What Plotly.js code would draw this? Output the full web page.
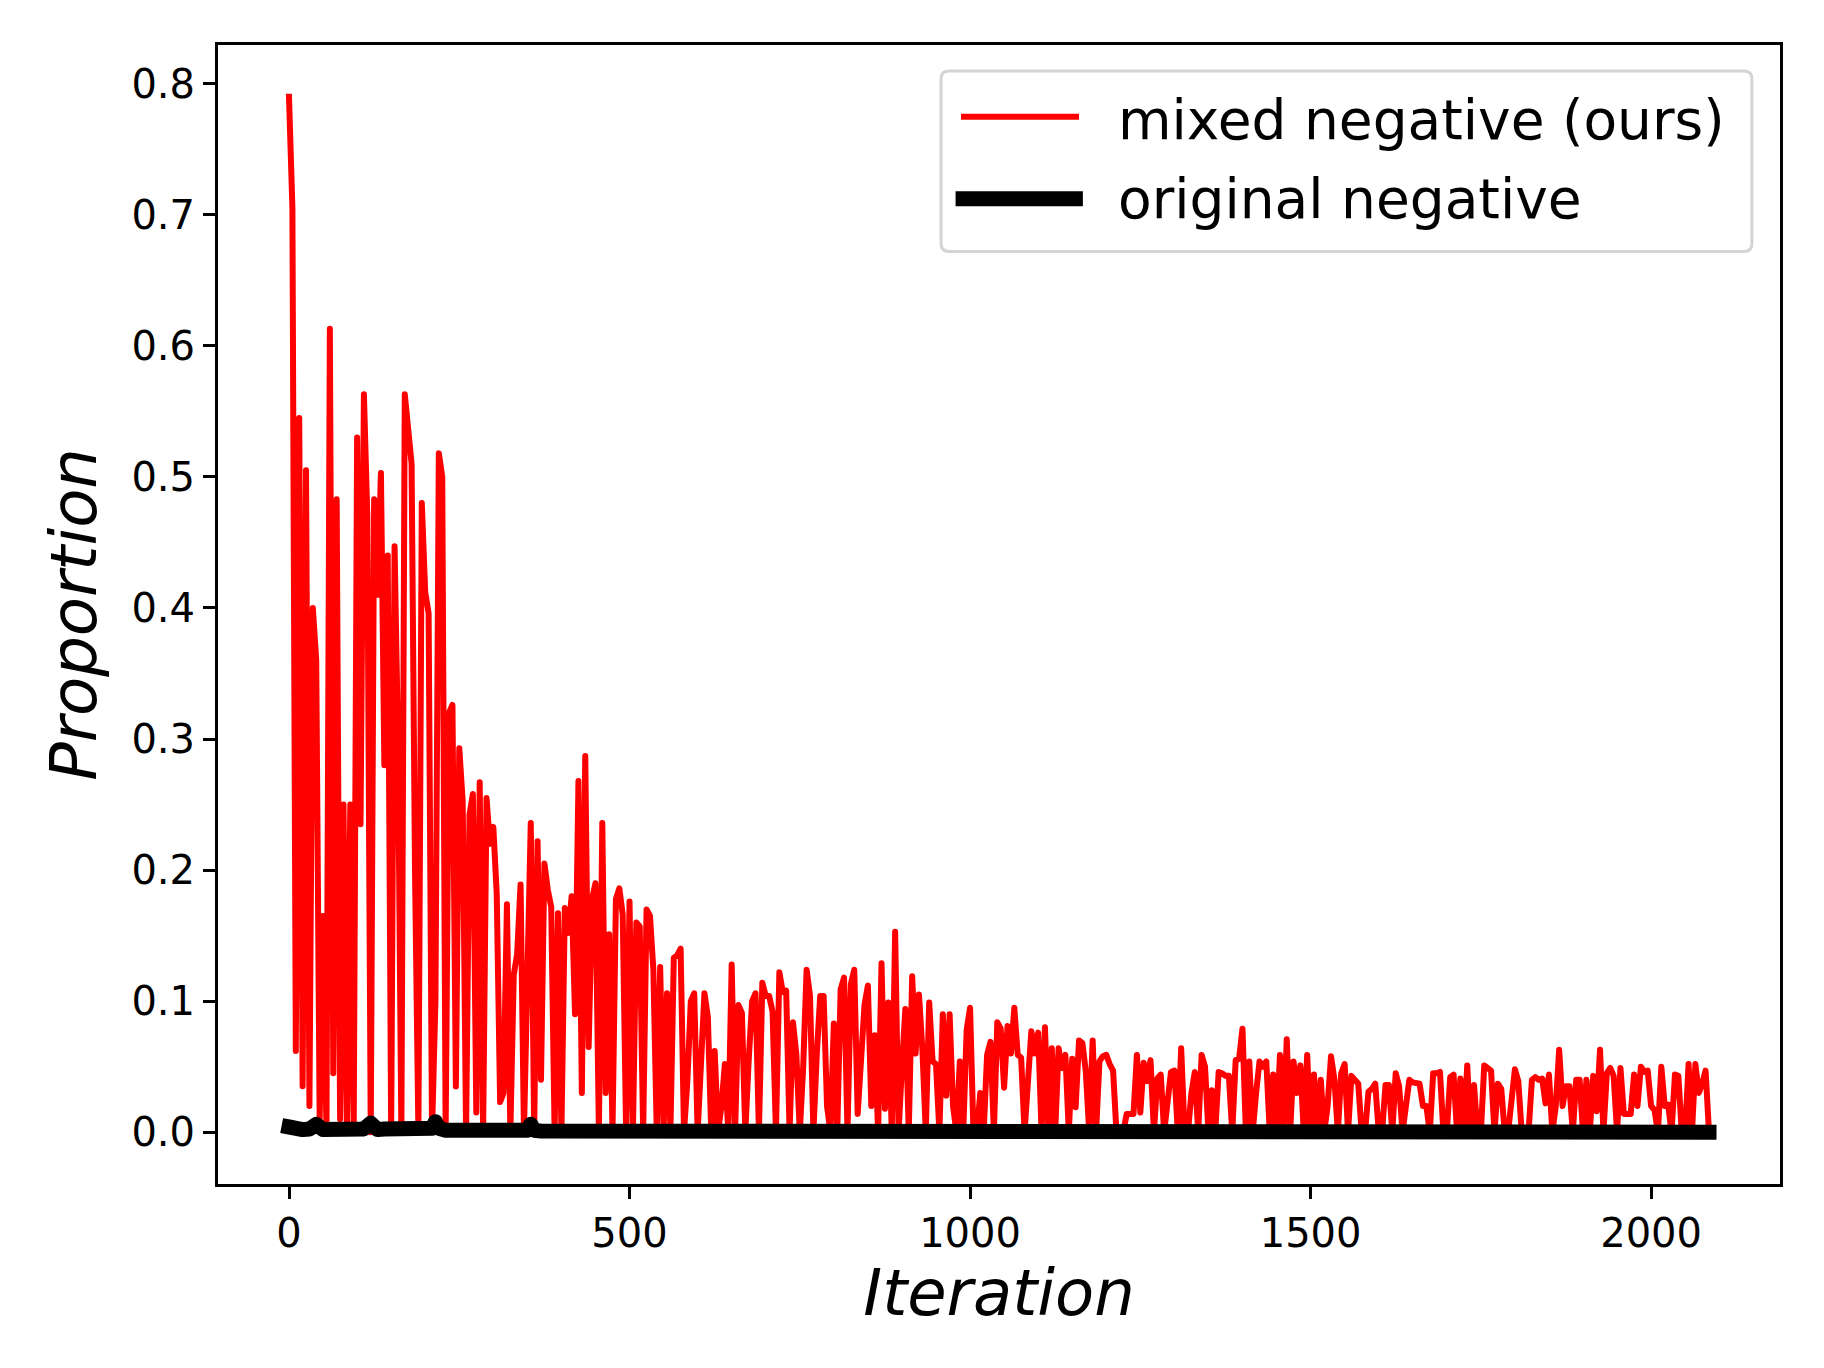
<!DOCTYPE html>
<html>
<head>
<meta charset="utf-8">
<script src="https://cdn.plot.ly/plotly-3.0.1.min.js"></script>
<style>
  html, body { margin: 0; padding: 0; background: #ffffff; }
  #chart { width: 1824px; height: 1368px; }
</style>
</head>
<body>
<div id="chart"></div>
<script>
// ---- Data ----
// Red series "mixed negative (ours)", sampled every 5 iterations.
const ITER_STEP = 5;
const mixedIter0to495 = [
  0.79, 0.705, 0.062, 0.545, 0.035, 0.505, 0.02, 0.40, 0.36, 0.01, 0.165, 0.0, 0.613, 0.045, 0.483, 0.01, 0.25, 0.0, 0.25, 0.0,
  0.53, 0.235, 0.563, 0.47, 0.0, 0.483, 0.41, 0.503, 0.28, 0.44, 0.0, 0.447, 0.30, 0.0, 0.563, 0.54, 0.51, 0.20, 0.0, 0.48,
  0.412, 0.396, 0.0, 0.10, 0.518, 0.50, 0.0, 0.32, 0.326, 0.035, 0.293, 0.253, 0.0, 0.242, 0.258, 0.015, 0.267, 0.0, 0.255, 0.22,
  0.233, 0.182, 0.023, 0.03, 0.174, 0.0, 0.12, 0.136, 0.189, 0.0, 0.104, 0.236, 0.0, 0.222, 0.04, 0.205, 0.185, 0.172, 0.0, 0.167,
  0.0, 0.171, 0.152, 0.18, 0.09, 0.268, 0.03, 0.287, 0.065, 0.178, 0.19, 0.0, 0.236, 0.03, 0.151, 0.0, 0.178, 0.186, 0.166, 0.0
];
const mixedIter500to995 = [
  0.176, 0.0, 0.16, 0.157, 0.0, 0.17, 0.165, 0.124, 0.0, 0.126, 0.0, 0.106, 0.0, 0.133, 0.135, 0.14, 0.0, 0.04, 0.10, 0.106,
  0.0, 0.05, 0.106, 0.088, 0.0, 0.062, 0.0, 0.02, 0.052, 0.0, 0.128, 0.0, 0.097, 0.091, 0.0, 0.055, 0.10, 0.106, 0.0, 0.114,
  0.104, 0.104, 0.092, 0.0, 0.122, 0.107, 0.108, 0.0, 0.084, 0.059, 0.0, 0.05, 0.124, 0.104, 0.0, 0.06, 0.104, 0.104, 0.02, 0.0,
  0.083, 0.0, 0.109, 0.118, 0.0, 0.113, 0.124, 0.014, 0.064, 0.097, 0.112, 0.02, 0.074, 0.0, 0.129, 0.018, 0.099, 0.0, 0.153, 0.0,
  0.05, 0.094, 0.0, 0.119, 0.06, 0.105, 0.063, 0.0, 0.099, 0.054, 0.052, 0.0, 0.09, 0.028, 0.09, 0.02, 0.0, 0.054, 0.0, 0.078
];
const mixedIter1000to1495 = [
  0.095, 0.0, 0.0, 0.03, 0.0, 0.059, 0.069, 0.0, 0.084, 0.079, 0.034, 0.081, 0.06, 0.095, 0.059, 0.057, 0.0, 0.04, 0.077, 0.06,
  0.076, 0.0, 0.08, 0.0, 0.064, 0.0, 0.064, 0.049, 0.059, 0.0, 0.056, 0.019, 0.07, 0.068, 0.046, 0.0, 0.07, 0.0, 0.054, 0.058,
  0.059, 0.052, 0.047, 0.0, 0.0, 0.0, 0.014, 0.014, 0.014, 0.059, 0.015, 0.053, 0.039, 0.055, 0.0, 0.041, 0.044, 0.0, 0.02, 0.046,
  0.047, 0.0, 0.064, 0.0, 0.0, 0.03, 0.046, 0.0, 0.059, 0.05, 0.0, 0.032, 0.0, 0.046, 0.045, 0.043, 0.043, 0.0, 0.055, 0.056,
  0.079, 0.0, 0.054, 0.0, 0.03, 0.054, 0.05, 0.054, 0.0, 0.044, 0.0, 0.059, 0.0, 0.071, 0.0, 0.054, 0.03, 0.051, 0.0, 0.059
];
const mixedIter1500to1995 = [
  0.0, 0.044, 0.0, 0.04, 0.0, 0.02, 0.058, 0.04, 0.0, 0.045, 0.052, 0.0, 0.043, 0.04, 0.037, 0.0, 0.0, 0.031, 0.033, 0.037,
  0.0, 0.0, 0.036, 0.036, 0.0, 0.045, 0.035, 0.0, 0.025, 0.04, 0.038, 0.037, 0.037, 0.02, 0.02, 0.0, 0.045, 0.045, 0.046, 0.0,
  0.0, 0.042, 0.044, 0.0, 0.041, 0.0, 0.051, 0.0, 0.036, 0.0, 0.0, 0.051, 0.049, 0.047, 0.0, 0.037, 0.033, 0.0, 0.0, 0.028,
  0.048, 0.039, 0.0, 0.0, 0.0, 0.04, 0.042, 0.04, 0.041, 0.022, 0.044, 0.0, 0.02, 0.063, 0.02, 0.035, 0.035, 0.0, 0.04, 0.04,
  0.0, 0.04, 0.0, 0.043, 0.016, 0.063, 0.0, 0.045, 0.049, 0.043, 0.0, 0.049, 0.014, 0.014, 0.014, 0.044, 0.02, 0.05, 0.046, 0.047
];
const mixedIter2000to2085 = [
  0.02, 0.017, 0.0, 0.05, 0.02, 0.021, 0.0, 0.044, 0.043, 0.0, 0.0, 0.052, 0.0, 0.052, 0.03, 0.037, 0.047, 0.0
];

// Black series "original negative"
const originalIter = [0, 10, 20, 30, 40, 50, 60, 80, 100, 110, 120, 130, 140, 160, 180, 200, 210, 215, 220, 230,
                      260, 300, 340, 350, 355, 360, 370, 400, 500, 600, 800, 1000, 1200, 1500, 1800, 2085];
const originalProportion = [0.004, 0.002, 0.002, 0.0025, 0.006, 0.002, 0.0025, 0.002, 0.002, 0.0025, 0.007, 0.002,
                            0.0025, 0.002, 0.002, 0.0025, 0.003, 0.008, 0.003, 0.0015, 0.001, 0.001, 0.001, 0.0015,
                            0.006, 0.0015, 0.001, 0.001, 0.0008, 0.0006, 0.0005, 0.0004, 0.0003, 0.0002, 0.0001, 0.0];

const xTickVals = [0, 500, 1000, 1500, 2000];
const yTickVals = [0.0, 0.1, 0.2, 0.3, 0.4, 0.5, 0.6, 0.7, 0.8];
const seriesNames = ['mixed negative (ours)', 'original negative'];

// ---- Build traces ----
const mixedProportion = [].concat(mixedIter0to495, mixedIter500to995, mixedIter1000to1495,
                                  mixedIter1500to1995, mixedIter2000to2085);
const mixedIter = mixedProportion.map((_, i) => i * ITER_STEP);

const FONT = 'DejaVu Sans, Verdana, sans-serif';

const traces = [
  { x: mixedIter, y: mixedProportion, type: 'scatter', mode: 'lines', name: seriesNames[0],
    line: { color: '#ff0000', width: 6 }, hoverinfo: 'skip' },
  { x: originalIter, y: originalProportion, type: 'scatter', mode: 'lines', name: seriesNames[1],
    line: { color: '#000000', width: 15 }, hoverinfo: 'skip' }
];

// ---- Legend (drawn in paper coordinates) ----
const lg = { x0: 0.4629, x1: 0.9820, y0: 0.8187, y1: 0.9772, rx: 0.0051, ry: 0.0070 };
const boxPath = `M ${lg.x0 + lg.rx},${lg.y0} L ${lg.x1 - lg.rx},${lg.y0} Q ${lg.x1},${lg.y0} ${lg.x1},${lg.y0 + lg.ry} ` +
  `L ${lg.x1},${lg.y1 - lg.ry} Q ${lg.x1},${lg.y1} ${lg.x1 - lg.rx},${lg.y1} L ${lg.x0 + lg.rx},${lg.y1} ` +
  `Q ${lg.x0},${lg.y1} ${lg.x0},${lg.y1 - lg.ry} L ${lg.x0},${lg.y0 + lg.ry} Q ${lg.x0},${lg.y0} ${lg.x0 + lg.rx},${lg.y0} Z`;

const shapes = [
  { type: 'path', xref: 'paper', yref: 'paper', path: boxPath, layer: 'above',
    fillcolor: 'rgba(255,255,255,0.8)', line: { color: '#d4d4d4', width: 3 } },
  { type: 'line', xref: 'paper', yref: 'paper', x0: 0.4757, x1: 0.5512, y0: 0.9370, y1: 0.9370, layer: 'above',
    line: { color: '#ff0000', width: 6 } },
  { type: 'line', xref: 'paper', yref: 'paper', x0: 0.4722, x1: 0.5537, y0: 0.8651, y1: 0.8651, layer: 'above',
    line: { color: '#000000', width: 15 } }
];

const annotations = [
  { xref: 'paper', yref: 'paper', x: 0.575, y: 0.9339, xanchor: 'left', yanchor: 'middle', showarrow: false,
    text: seriesNames[0], font: { family: FONT, size: 55, color: '#000000' } },
  { xref: 'paper', yref: 'paper', x: 0.575, y: 0.8645, xanchor: 'left', yanchor: 'middle', showarrow: false,
    text: seriesNames[1], font: { family: FONT, size: 55, color: '#000000' } }
];

const axisCommon = {
  showline: true, linecolor: '#000000', linewidth: 3, mirror: true,
  ticks: 'outside', ticklen: 12, tickwidth: 3, tickcolor: '#000000',
  showgrid: false, zeroline: false,
  tickfont: { family: FONT, size: 40, color: '#000000' }
};

const layout = {
  width: 1824, height: 1368,
  margin: { l: 218, r: 44, t: 45, b: 184, pad: 0 },
  paper_bgcolor: '#ffffff', plot_bgcolor: '#ffffff',
  showlegend: false,
  font: { family: FONT, color: '#000000' },
  xaxis: Object.assign({}, axisCommon, {
    range: [-104.25, 2189.25], tickmode: 'array', tickvals: xTickVals,
    title: { text: 'Iteration', standoff: 16, font: { family: FONT, size: 64, style: 'italic', color: '#000000' } },
    automargin: false
  }),
  yaxis: Object.assign({}, axisCommon, {
    range: [-0.0395, 0.8295], tickmode: 'array', tickvals: yTickVals, tickformat: '.1f',
    title: { text: 'Proportion', standoff: 14, font: { family: FONT, size: 64, style: 'italic', color: '#000000' } },
    automargin: false
  }),
  shapes: shapes,
  annotations: annotations
};

Plotly.newPlot('chart', traces, layout, { staticPlot: true, displayModeBar: false }).then(() => {
  document.querySelectorAll('.scatterlayer path.js-line').forEach(p => {
    p.style.strokeLinejoin = 'round';
    p.style.strokeLinecap = 'square';
  });
});
</script>
</body>
</html>
